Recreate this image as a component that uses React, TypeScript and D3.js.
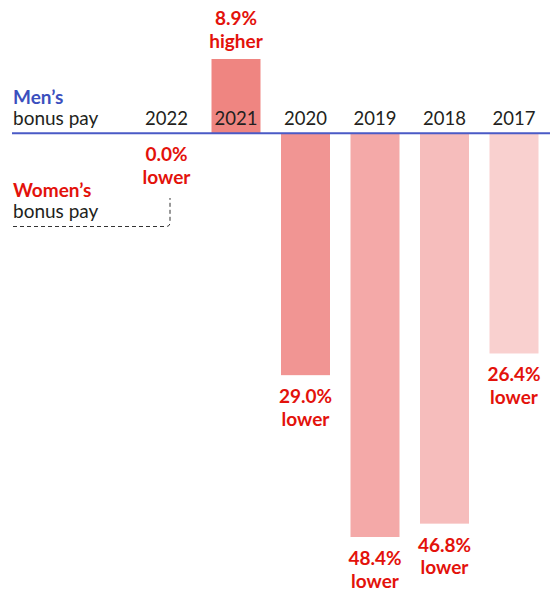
import React from 'react';
import * as d3 from 'd3';

// bonus gap: positive = women's bonus higher, negative = lower
const years = ['2022', '2021', '2020', '2019', '2018', '2017'];
const gapValues = [0.0, 8.9, -29.0, -48.4, -46.8, -26.4];
const barColors = ['#f4a8a7', '#ef8581', '#f19593', '#f4a9a8', '#f6bdbc', '#f9d0cf'];

const width = 550;
const height = 589;
const baseFont = 'Lato, "Noto Sans", sans-serif';
const red = '#e3120b';
const blue = '#3b4fbe';
const ink = '#231f20';

const App = () => {
  const x = d3.scaleBand<string>()
    .domain(years)
    .range([131.75, 548.75])
    .paddingInner(0.295)
    .paddingOuter(0.1475);

  const y = d3.scaleLinear().domain([-48.4, 8.9]).range([537, 59]);
  const y0 = y(0);

  const fmt = (v: number) => `${Math.abs(v).toFixed(1)}%`;

  return (
    <svg
      width={width}
      height={height}
      style={{ position: 'absolute', left: 0, top: 0, display: 'block' }}
      fontFamily={baseFont}
    >
      {/* bars */}
      {years.map((yr, i) => {
        const v = gapValues[i];
        if (v === 0) return null;
        const top = Math.min(y(v), y0);
        const h = Math.abs(y(v) - y0);
        return (
          <rect key={yr} x={x(yr)} y={top} width={x.bandwidth()} height={h} fill={barColors[i]} />
        );
      })}

      {/* year labels */}
      {years.map((yr) => (
        <text
          key={yr}
          x={(x(yr) ?? 0) + x.bandwidth() / 2}
          y={y0 - 8.5}
          textAnchor="middle"
          fontSize={18.5}
          fill={ink}
        >
          {yr}
        </text>
      ))}

      {/* men's baseline */}
      <line x1={12} x2={width} y1={y0} y2={y0} stroke="#4a5ac6" strokeWidth={2} />

      {/* value labels */}
      {years.map((yr, i) => {
        const v = gapValues[i];
        const cx = (x(yr) ?? 0) + x.bandwidth() / 2;
        const word = v > 0 ? 'higher' : 'lower';
        const first = v > 0 ? y(v) - 34 : y(v) + 28;
        return (
          <text key={yr} x={cx} textAnchor="middle" fontSize={19} fontWeight="bold" fill={red}>
            <tspan x={cx} y={first}>{fmt(v)}</tspan>
            <tspan x={cx} y={first + 22.5}>{word}</tspan>
          </text>
        );
      })}

      {/* side legend */}
      <text x={13} y={104} fontSize={19} fontWeight="bold" fill={blue}>Men’s</text>
      <text x={13} y={125} fontSize={19} fill={ink}>bonus pay</text>
      <text x={13} y={197} fontSize={19} fontWeight="bold" fill={red}>Women’s</text>
      <text x={13} y={218} fontSize={19} fill={ink}>bonus pay</text>

      <path
        d={`M13,226.5 H166 Q170,226.5 170,222.5 V198`}
        fill="none"
        stroke="#333"
        strokeWidth={1}
        strokeDasharray="4,3"
      />
    </svg>
  );
};

export default App;
